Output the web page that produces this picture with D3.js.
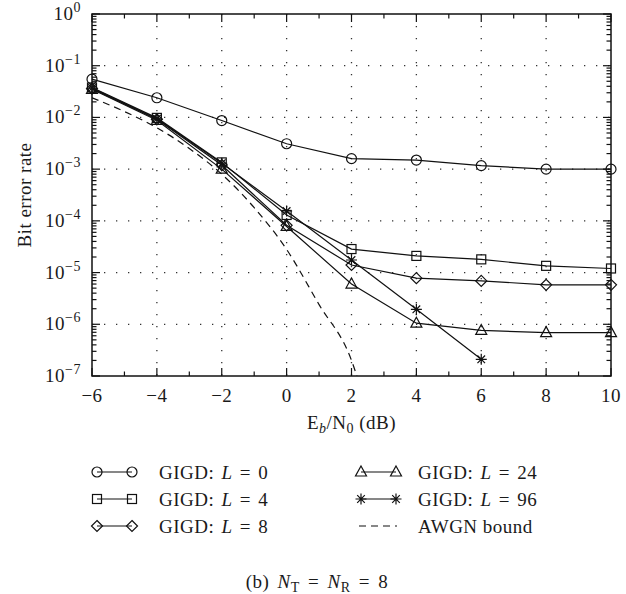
<!DOCTYPE html>
<html>
<head>
<meta charset="utf-8">
<script src="https://cdn.jsdelivr.net/npm/d3@7"></script>
<style>
  body { margin: 0; background: #fff; }
  svg { display: block; font-family: "Liberation Serif", "Times New Roman", "DejaVu Serif", serif; }
  text { fill: #1a1a1a; letter-spacing: 0.5px; }
</style>
</head>
<body>
<svg id="chart" width="626" height="594"></svg>
<script>
// Eb/N0 points (dB)
const ebno = [-6, -4, -2, 0, 2, 4, 6, 8, 10];

// bit error rate per series
const berL0 = [0.055, 0.024, 0.0087, 0.0031, 0.0016, 0.0015, 0.00117, 0.001, 0.001];
const berL4 = [0.038, 0.0098, 0.00135, 0.00013, 2.85e-5, 2.1e-5, 1.8e-5, 1.35e-5, 1.2e-5];
const berL8 = [0.036, 0.0092, 0.0012, 8.2e-5, 1.4e-5, 7.8e-6, 6.9e-6, 5.8e-6, 5.8e-6];
const berL24 = [0.035, 0.0088, 0.001, 7.8e-5, 6e-6, 1.05e-6, 7.6e-7, 6.9e-7, 6.9e-7];
const berL96 = [0.037, 0.0094, 0.0013, 1.55e-4, 1.75e-5, 1.95e-6, 2.1e-7];

// AWGN bound curve
const awgnX = [-6, -5, -4, -3, -2, -1, 0, 1, 2, 2.5];
const awgnBer = [0.024, 0.013, 0.0063, 0.0025, 8e-4, 1.8e-4, 2.8e-5, 2.4e-6, 2e-7, 2e-8];

const xTicks = [-6, -4, -2, 0, 2, 4, 6, 8, 10];
const yExps = [0, -1, -2, -3, -4, -5, -6, -7];

const series = [
    { name: 'L = 0', vals: berL0, marker: 'circle' },
    { name: 'L = 4', vals: berL4, marker: 'square' },
    { name: 'L = 8', vals: berL8, marker: 'diamond' },
    { name: 'L = 24', vals: berL24, marker: 'triangle' },
    { name: 'L = 96', vals: berL96, marker: 'star' }
];

const svg = d3.select('#chart');
const pLeft = 92, pRight = 611, pTop = 14, pBottom = 376;

const x = d3.scaleLinear().domain([-6, 10]).range([pLeft, pRight]);
const y = d3.scaleLog().domain([1e-7, 1]).range([pBottom, pTop]);

// dotted grid
const grid = svg.append('g').attr('stroke', '#333').attr('stroke-width', 1.3)
    .attr('stroke-dasharray', '1.3,10.7');
grid.selectAll('.gx').data(xTicks.slice(1, -1)).enter().append('line')
    .attr('x1', d => x(d)).attr('x2', d => x(d))
    .attr('y1', pTop).attr('y2', pBottom);
grid.selectAll('.gy').data(yExps.slice(1, -1)).enter().append('line')
    .attr('x1', pLeft).attr('x2', pRight)
    .attr('y1', d => y(Math.pow(10, d))).attr('y2', d => y(Math.pow(10, d)));

// ticks on all four sides, pointing inward
const ticks = svg.append('g').attr('stroke', '#111').attr('stroke-width', 1.2);
const xMinor = d3.range(-5, 10, 2);
[[pBottom, -1], [pTop, 1]].forEach(([yy, dir]) => {
    ticks.selectAll(null).data(xTicks).enter().append('line')
        .attr('x1', d => x(d)).attr('x2', d => x(d))
        .attr('y1', yy).attr('y2', yy + dir * 8);
    ticks.selectAll(null).data(xMinor).enter().append('line')
        .attr('x1', d => x(d)).attr('x2', d => x(d))
        .attr('y1', yy).attr('y2', yy + dir * 4.5);
});
const yMinor = [];
for (let e = -7; e < 0; e++) {
    for (let m = 2; m <= 9; m++) yMinor.push(m * Math.pow(10, e));
}
[[pLeft, 1], [pRight, -1]].forEach(([xx, dir]) => {
    ticks.selectAll(null).data(yExps).enter().append('line')
        .attr('x1', xx).attr('x2', xx + dir * 8)
        .attr('y1', d => y(Math.pow(10, d))).attr('y2', d => y(Math.pow(10, d)));
    ticks.selectAll(null).data(yMinor).enter().append('line')
        .attr('x1', xx).attr('x2', xx + dir * 4.5)
        .attr('y1', d => y(d)).attr('y2', d => y(d));
});

// frame
svg.append('rect').attr('x', pLeft).attr('y', pTop)
    .attr('width', pRight - pLeft).attr('height', pBottom - pTop)
    .attr('fill', 'none').attr('stroke', '#111').attr('stroke-width', 1.5);

// tick labels
svg.append('g').selectAll('text').data(xTicks).enter().append('text')
    .attr('x', d => x(d)).attr('y', 402)
    .attr('text-anchor', 'middle').attr('font-size', 19)
    .text(d => d < 0 ? '\u2212' + Math.abs(d) : d);

const yl = svg.append('g').selectAll('text').data(yExps).enter().append('text')
    .attr('x', 81).attr('y', d => y(Math.pow(10, d)) + 6)
    .attr('text-anchor', 'end').attr('font-size', 19);
yl.append('tspan').text('10');
yl.append('tspan').attr('font-size', 14).attr('dy', -8)
    .text(d => d === 0 ? '0' : '\u2212' + Math.abs(d));

// axis titles
svg.append('text').attr('transform', 'translate(31,' + (pTop + pBottom) / 2 + ') rotate(-90)')
    .attr('text-anchor', 'middle').attr('font-size', 19).text('Bit error rate');

const xt = svg.append('text').attr('x', (pLeft + pRight) / 2).attr('y', 429)
    .attr('text-anchor', 'middle').attr('font-size', 19);
xt.append('tspan').text('E');
xt.append('tspan').attr('font-style', 'italic').attr('font-size', 14).attr('dy', 4).text('b');
xt.append('tspan').attr('dy', -4).text('/N');
xt.append('tspan').attr('font-size', 14).attr('dy', 4).text('0');
xt.append('tspan').attr('dy', -4).text(' (dB)');

// marker drawing
function drawMarker(g, type, cx, cy) {
    const s = 5;
    if (type === 'circle') {
        g.append('circle').attr('cx', cx).attr('cy', cy).attr('r', s);
    } else if (type === 'square') {
        g.append('rect').attr('x', cx - 4.5).attr('y', cy - 4.5).attr('width', 9).attr('height', 9);
    } else if (type === 'diamond') {
        g.append('path').attr('d', `M${cx},${cy - 5.5}L${cx + 5.5},${cy}L${cx},${cy + 5.5}L${cx - 5.5},${cy}Z`);
    } else if (type === 'triangle') {
        g.append('path').attr('d', `M${cx},${cy - 6}L${cx + 5.5},${cy + 4}L${cx - 5.5},${cy + 4}Z`);
    } else if (type === 'star') {
        const d = 3.8;
        g.append('path').attr('d',
            `M${cx},${cy - 5.5}V${cy + 5.5}M${cx - 5.5},${cy}H${cx + 5.5}` +
            `M${cx - d},${cy - d}L${cx + d},${cy + d}M${cx - d},${cy + d}L${cx + d},${cy - d}`);
    }
}

// clip for the bound line
svg.append('clipPath').attr('id', 'plotClip').append('rect')
    .attr('x', pLeft).attr('y', pTop).attr('width', pRight - pLeft).attr('height', pBottom - pTop);

const line = d3.line().x(d => x(d[0])).y(d => y(d[1]));
const awgnLine = d3.line().x(d => x(d[0])).y(d => y(d[1])).curve(d3.curveMonotoneX);

svg.append('path').datum(awgnX.map((v, i) => [v, awgnBer[i]]))
    .attr('clip-path', 'url(#plotClip)')
    .attr('d', awgnLine).attr('fill', 'none').attr('stroke', '#111')
    .attr('stroke-width', 1.2).attr('stroke-dasharray', '7,5');

series.forEach(s => {
    const pts = s.vals.map((v, i) => [ebno[i], v]);
    svg.append('path').datum(pts).attr('d', line)
        .attr('fill', 'none').attr('stroke', '#111').attr('stroke-width', 1.2);
    const mg = svg.append('g').attr('fill', 'none').attr('stroke', '#111').attr('stroke-width', 1.2);
    pts.forEach(p => drawMarker(mg, s.marker, x(p[0]), y(p[1])));
});

// legend
const legendRows = [
    { s: series[0], lx: 97, tx: 159, y: 472 },
    { s: series[1], lx: 97, tx: 159, y: 499 },
    { s: series[2], lx: 97, tx: 159, y: 526 },
    { s: series[3], lx: 361, tx: 418, y: 472 },
    { s: series[4], lx: 361, tx: 418, y: 499 }
];
legendRows.forEach(r => {
    const g = svg.append('g').attr('fill', 'none').attr('stroke', '#111').attr('stroke-width', 1.2);
    g.append('line').attr('x1', r.lx).attr('x2', r.lx + 35).attr('y1', r.y).attr('y2', r.y);
    drawMarker(g, r.s.marker, r.lx, r.y);
    drawMarker(g, r.s.marker, r.lx + 35, r.y);
    const parts = r.s.name.split(' = ');
    const t = svg.append('text').attr('x', r.tx).attr('y', r.y + 6.5)
        .attr('font-size', 19).attr('word-spacing', 2);
    t.append('tspan').text('GIGD: ');
    t.append('tspan').attr('font-style', 'italic').text(parts[0]);
    t.append('tspan').text(' = ' + parts[1]);
});
svg.append('line').attr('x1', 359).attr('x2', 397).attr('y1', 526).attr('y2', 526)
    .attr('stroke', '#111').attr('stroke-width', 1.2).attr('stroke-dasharray', '7,5');
svg.append('text').attr('x', 418).attr('y', 532.5).attr('font-size', 19).text('AWGN bound');

// caption
const cap = svg.append('text').attr('x', 317).attr('y', 588)
    .attr('text-anchor', 'middle').attr('font-size', 19).attr('word-spacing', 3);
cap.append('tspan').text('(b)  ');
cap.append('tspan').attr('font-style', 'italic').text('N');
cap.append('tspan').attr('font-size', 14).attr('dy', 4).text('T');
cap.append('tspan').attr('dy', -4).text(' = ');
cap.append('tspan').attr('font-style', 'italic').text('N');
cap.append('tspan').attr('font-size', 14).attr('dy', 4).text('R');
cap.append('tspan').attr('dy', -4).text(' = 8');
</script>
</body>
</html>
